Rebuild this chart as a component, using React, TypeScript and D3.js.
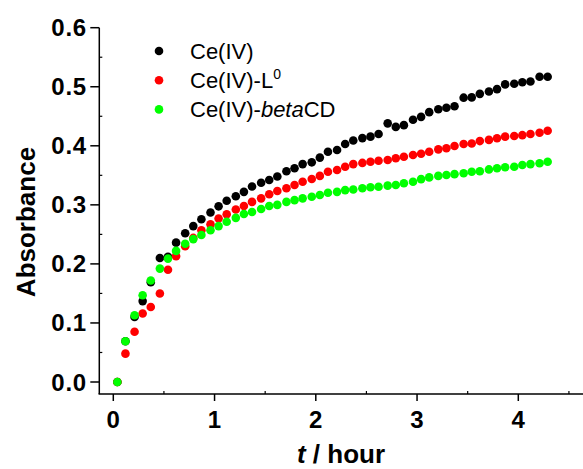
import React from "react";
import * as d3 from "d3";

const times = [0.04, 0.12, 0.21, 0.29, 0.37, 0.46, 0.54, 0.62, 0.71, 0.79, 0.87, 0.96, 1.04, 1.12, 1.21, 1.29, 1.37, 1.46, 1.54, 1.62, 1.71, 1.79, 1.87, 1.96, 2.04, 2.12, 2.21, 2.29, 2.37, 2.46, 2.54, 2.62, 2.71, 2.79, 2.87, 2.96, 3.04, 3.12, 3.21, 3.29, 3.37, 3.46, 3.54, 3.62, 3.71, 3.79, 3.87, 3.96, 4.04, 4.12, 4.21, 4.29];

const ceIV = [0.0, 0.069, 0.11, 0.137, 0.169, 0.21, 0.212, 0.236, 0.252, 0.264, 0.2755, 0.287, 0.2975, 0.307, 0.3145, 0.322, 0.331, 0.3375, 0.342, 0.348, 0.357, 0.362, 0.369, 0.372, 0.38, 0.39, 0.393, 0.403, 0.409, 0.413, 0.4155, 0.42, 0.438, 0.432, 0.435, 0.444, 0.449, 0.457, 0.462, 0.4645, 0.467, 0.4815, 0.482, 0.488, 0.492, 0.496, 0.504, 0.505, 0.5075, 0.509, 0.517, 0.517];

const ceIVL0 = [0.0, 0.048, 0.085, 0.116, 0.127, 0.15, 0.19, 0.213, 0.23, 0.244, 0.257, 0.267, 0.277, 0.284, 0.292, 0.298, 0.305, 0.311, 0.318, 0.3235, 0.328, 0.3336, 0.339, 0.3438, 0.349, 0.356, 0.359, 0.3646, 0.369, 0.371, 0.373, 0.3748, 0.376, 0.379, 0.3815, 0.3844, 0.3865, 0.39, 0.394, 0.3958, 0.3997, 0.403, 0.404, 0.408, 0.41, 0.4127, 0.4155, 0.4166, 0.418, 0.42, 0.422, 0.4256];

const ceIVbetaCD = [0.0, 0.069, 0.113, 0.147, 0.172, 0.192, 0.209, 0.222, 0.234, 0.242, 0.249, 0.257, 0.264, 0.2715, 0.278, 0.2845, 0.288, 0.293, 0.298, 0.3, 0.305, 0.308, 0.311, 0.3138, 0.3167, 0.3206, 0.322, 0.325, 0.326, 0.328, 0.3297, 0.3307, 0.3325, 0.3336, 0.3365, 0.339, 0.3435, 0.3465, 0.349, 0.3505, 0.352, 0.3534, 0.356, 0.357, 0.36, 0.362, 0.3636, 0.3646, 0.3675, 0.369, 0.3704, 0.373];

const xTicks = [0, 1, 2, 3, 4];
const xMinor = [0.5, 1.5, 2.5, 3.5, 4.5];
const yTicks = [0.0, 0.1, 0.2, 0.3, 0.4, 0.5, 0.6];
const yMinor = [0.05, 0.15, 0.25, 0.35, 0.45, 0.55];

const seriesNames = ["Ce(IV)", "Ce(IV)-L0", "Ce(IV)-betaCD"];
const seriesColors = ["#000000", "#ff0000", "#00ff00"];
const seriesValues = [ceIV, ceIVL0, ceIVbetaCD];

const FONT = "'Liberation Sans', Arial, Helvetica, sans-serif";

export default function App() {
  const W = 583;
  const H = 469;
  const x = d3.scaleLinear().domain([0, 4]).range([113.3, 518.3]);
  const y = d3.scaleLinear().domain([0, 0.6]).range([382, 27.7]);
  const xLeft = 99.3;
  const yBottom = 394;
  const fmt = d3.format(".1f");

  return (
    <svg
      width={W}
      height={H}
      style={{ position: "absolute", left: 0, top: 0, background: "#fff" }}
      fontFamily={FONT}
    >
      <rect x={0} y={0} width={W} height={H} fill="#fff" />
      {/* data */}
      {seriesValues.map((vals, si) => (
        <g key={si} fill={seriesColors[si]}>
          {vals.map((v, i) => (
            <circle key={i} cx={x(times[i])} cy={y(v)} r={4.3} />
          ))}
        </g>
      ))}
      {/* axes */}
      <g stroke="#000" strokeWidth={1.5} fill="none">
        <line x1={xLeft} y1={y(0.6)} x2={xLeft} y2={yBottom} />
        <line x1={xLeft - 0.75} y1={yBottom} x2={W + 5} y2={yBottom} />
        {yTicks.map((t) => (
          <line key={t} x1={xLeft - 9} x2={xLeft} y1={y(t)} y2={y(t)} />
        ))}
        {yMinor.map((t) => (
          <line key={t} x1={xLeft} x2={xLeft + 3} y1={y(t)} y2={y(t)} strokeWidth={1.2} />
        ))}
        {xTicks.map((t) => (
          <line key={t} x1={x(t)} x2={x(t)} y1={yBottom} y2={yBottom + 7} />
        ))}
        {xMinor.map((t) => (
          <line key={t} x1={x(t)} x2={x(t)} y1={yBottom} y2={yBottom - 3} strokeWidth={1.2} />
        ))}
      </g>
      {/* tick labels */}
      <g fontWeight="bold" fontSize={24} fill="#000">
        {yTicks.map((t) => (
          <text key={t} x={87} y={y(t) + 8.5} textAnchor="end" letterSpacing={0.8}>
            {fmt(t)}
          </text>
        ))}
        {xTicks.map((t) => (
          <text key={t} x={x(t)} y={428} textAnchor="middle">
            {t}
          </text>
        ))}
      </g>
      {/* axis titles */}
      <text
        transform={`translate(35, 222) rotate(-90)`}
        textAnchor="middle"
        fontWeight="bold"
        fontSize={26}
      >
        Absorbance
      </text>
      <text x={341} y={463} textAnchor="middle" fontWeight="bold" fontSize={26}>
        <tspan fontStyle="italic">t</tspan> / hour
      </text>
      {/* legend */}
      <g fontSize={22}>
        {seriesNames.map((name, i) => {
          const cy = 51 + i * 29.2;
          return (
            <g key={name}>
              <circle cx={159} cy={cy} r={4.3} fill={seriesColors[i]} />
              <text x={190} y={cy + 8}>
                {i === 0 && "Ce(IV)"}
                {i === 1 && (
                  <>
                    Ce(IV)-L
                    <tspan fontSize={14} dy={-9}>0</tspan>
                  </>
                )}
                {i === 2 && (
                  <>
                    Ce(IV)-<tspan fontStyle="italic">beta</tspan>CD
                  </>
                )}
              </text>
            </g>
          );
        })}
      </g>
    </svg>
  );
}
